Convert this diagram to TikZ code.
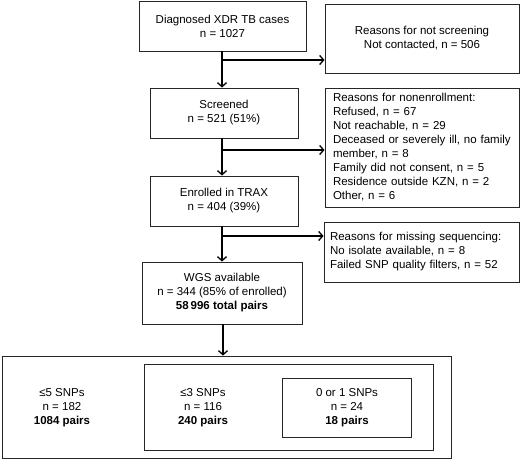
\documentclass[tikz,border=0pt]{standalone}
\usepackage{fontspec}
\setmainfont{Liberation Sans}
\usetikzlibrary{arrows.meta}
\begin{document}
\begin{tikzpicture}[x=1pt,y=-1pt,
  box/.style={draw=black!85, line width=0.9pt, align=center, inner sep=0pt,
    font=\fontsize{11.5}{14}\selectfont},
  sidebox/.style={draw=black!85, line width=0.9pt, align=left, inner ysep=0pt,
    font=\fontsize{11.5}{14}\selectfont},
  txt/.style={align=center, inner sep=0pt, font=\fontsize{11.5}{14}\selectfont},
  arr/.style={line width=1.3pt, -{Straight Barb[length=4pt,width=9pt,line width=1.3pt]}}]
\useasboundingbox (0,0) rectangle (520,459);
% main column
\node[box, minimum width=167, minimum height=50] (b1) at (222.5,26) {Diagnosed XDR TB cases\\n = 1027};
\node[box, minimum width=148, minimum height=50] (b2) at (224,113) {Screened\\n = 521 (51\%)};
\node[box, minimum width=148, minimum height=50] (b3) at (224,201) {Enrolled in TRAX\\n = 404 (39\%)};
\node[box, minimum width=160, minimum height=62] (b4) at (222,293) {WGS available\\n = 344 (85\% of enrolled)\\\textbf{58\,996 total pairs}};
% side boxes
\node[box, minimum width=194, minimum height=69] (r1) at (422,38.5) {Reasons for not screening\\Not contacted, n = 506};
\node[sidebox, inner xsep=8pt, text width=178, minimum height=119] (r2) at (422,147.5) {Reasons for nonenrollment:\\Refused, n = 67\\Not reachable, n = 29\\Deceased or severely ill, no family\\member, n = 8\\Family did not consent, n = 5\\Residence outside KZN, n = 2\\Other, n = 6};
\node[sidebox, inner xsep=6pt, text width=183, minimum height=60] (r3) at (421.5,252) {Reasons for missing sequencing:\\No isolate available, n = 8\\Failed SNP quality filters, n = 52};
% nested SNP boxes
\node[box, minimum width=449, minimum height=102] (big) at (226.5,407) {};
\node[box, minimum width=289, minimum height=86] (mid) at (288.5,407) {};
\node[box, minimum width=129, minimum height=59] (inner) at (346.5,407.5) {};
\node[txt] (t5) at (62,408) {≤5 SNPs\\n = 182\\\textbf{1084 pairs}};
\node[txt] (t3) at (203,408) {≤3 SNPs\\n = 116\\\textbf{240 pairs}};
\node[txt] (t1) at (347,408) {0 or 1 SNPs\\n = 24\\\textbf{18 pairs}};
% junctions
\coordinate (j1) at (222,60);
\coordinate (j2) at (222,150);
\coordinate (j3) at (222,236);
\coordinate (j4) at (223,330);
% connectors
\draw[arr] (b1.south -| j1) -- (b2.north -| j1);
\draw[arr] (j1) -- (j1 -| r1.west);
\draw[arr] (b2.south -| j2) -- (b3.north -| j2);
\draw[arr] (j2) -- (j2 -| r2.west);
\draw[arr] (b3.south -| j3) -- (b4.north -| j3);
\draw[arr] (j3) -- (j3 -| r3.west);
\draw[arr] (b4.south -| j4) -- (big.north -| j4);
\end{tikzpicture}
\end{document}
